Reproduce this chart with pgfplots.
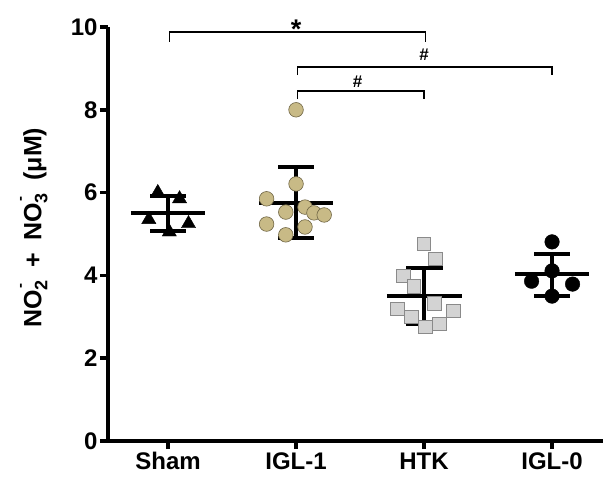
\documentclass[border=0pt]{standalone}
\usepackage{pgfplots}
\pgfplotsset{compat=1.18}
\usepackage{fontspec}
\setmainfont{Liberation Sans}
\definecolor{tanfill}{HTML}{C8BA86}
\definecolor{tanedge}{HTML}{6E6444}
\definecolor{sqfill}{HTML}{D3D3D3}
\definecolor{sqedge}{HTML}{8A8A8A}
\newcommand\ion[1]{\rlap{\hspace{0.05em}\raisebox{1.25ex}{\fontsize{15}{15}\selectfont -}}\raisebox{-0.45ex}{\fontsize{18}{18}\selectfont #1}}
\pgfplotstableread{
x y
-0.08 6.00
0.09 5.85
-0.15 5.35
0.16 5.25
0.01 5.05
}\sham
\pgfplotstableread{
x y
1.00 8.00
1.00 6.21
0.77 5.85
0.92 5.53
1.07 5.65
1.14 5.51
1.22 5.46
0.77 5.24
0.92 4.98
1.07 5.17
}\iglone
\pgfplotstableread{
x y
2.00 4.76
2.09 4.40
1.84 3.99
1.92 3.74
2.08 3.33
1.79 3.19
1.90 3.00
2.23 3.14
2.12 2.83
2.01 2.76
}\htk
\pgfplotstableread{
x y
3.00 4.81
3.00 4.11
2.84 3.86
3.16 3.79
3.00 3.50
}\iglzero
\begin{document}
\begin{tikzpicture}[x=1pt,y=1pt]
\useasboundingbox (-108,-39) rectangle (495,441);
\begin{axis}[
  at={(0,0)}, anchor=south west,
  scale only axis, width=495pt, height=414pt,
  xmin=-0.469, xmax=3.398, ymin=0, ymax=10,
  axis x line=bottom, axis y line=left,
  axis line style={line width=3.8pt, -},
  tick align=outside, major tick length=8pt,
  tick style={line width=3.8pt, black},
  xtick={0,1,2,3}, xticklabels={Sham,IGL-1,HTK,IGL-0},
  ytick={0,2,4,6,8,10},
  ticklabel style={font=\bfseries\fontsize{24}{28}\selectfont},
  yticklabel style={xshift=1pt},
  /pgf/number format/assume math mode=true,
  clip=false,
  ylabel={NO\ion{2}\hspace{0.5em}+\hspace{0.5em}NO\ion{3}\hspace{0.5em}(μM)},
  ylabel style={font=\bfseries\fontsize{25}{28}\selectfont, at={(axis description cs:-0.15,0.515)}, anchor=center},
]
% mean and SD lines
\pgfplotsset{meanline/.style={black, line width=3.6pt, forget plot}}
\addplot[meanline] coordinates {(-0.29,5.50) (0.29,5.50)};
\addplot[meanline] coordinates {(0,5.07) (0,5.92)};
\addplot[meanline] coordinates {(-0.14,5.92) (0.14,5.92)};
\addplot[meanline] coordinates {(-0.14,5.07) (0.14,5.07)};

\addplot[meanline] coordinates {(0.71,5.75) (1.29,5.75)};
\addplot[meanline] coordinates {(1,4.90) (1,6.62)};
\addplot[meanline] coordinates {(0.86,6.62) (1.14,6.62)};
\addplot[meanline] coordinates {(0.86,4.90) (1.14,4.90)};

\addplot[meanline] coordinates {(1.71,3.50) (2.30,3.50)};
\addplot[meanline] coordinates {(2,2.83) (2,4.18)};
\addplot[meanline] coordinates {(1.86,4.18) (2.15,4.18)};
\addplot[meanline] coordinates {(1.86,2.83) (2.15,2.83)};

\addplot[meanline] coordinates {(2.71,4.03) (3.29,4.03)};
\addplot[meanline] coordinates {(3,3.50) (3,4.52)};
\addplot[meanline] coordinates {(2.86,4.52) (3.14,4.52)};
\addplot[meanline] coordinates {(2.86,3.50) (3.14,3.50)};

% points
\addplot[only marks, mark=triangle*, mark size=8.2pt, mark options={fill=black, draw=black}] table {\sham};
\addplot[only marks, mark=*, mark size=7.3pt, mark options={fill=tanfill, draw=tanedge, line width=0.6pt}] table {\iglone};
\addplot[only marks, mark=square*, mark size=6.8pt, mark options={fill=sqfill, draw=sqedge, line width=0.8pt}] table {\htk};
\addplot[only marks, mark=*, mark size=7.3pt, mark options={fill=black, draw=black}] table {\iglzero};

% significance brackets
\pgfplotsset{bracket/.style={black, line width=1.4pt, forget plot}}
\addplot[bracket] coordinates {(0.01,9.64) (0.01,9.88) (2.01,9.88) (2.01,9.64)};
\addplot[bracket] coordinates {(1.01,8.84) (1.01,9.03) (3.0,9.03) (3.0,8.84)};
\addplot[bracket] coordinates {(1.01,8.26) (1.01,8.45) (2.0,8.45) (2.0,8.26)};
\node[font=\bfseries\fontsize{27}{30}\selectfont, anchor=base] at (axis cs:1,9.72) {*};
\node[font=\bfseries\fontsize{17}{20}\selectfont, anchor=base] at (axis cs:2,9.20) {\#};
\node[font=\bfseries\fontsize{17}{20}\selectfont, anchor=base] at (axis cs:1.48,8.55) {\#};
\end{axis}
\end{tikzpicture}
\end{document}
